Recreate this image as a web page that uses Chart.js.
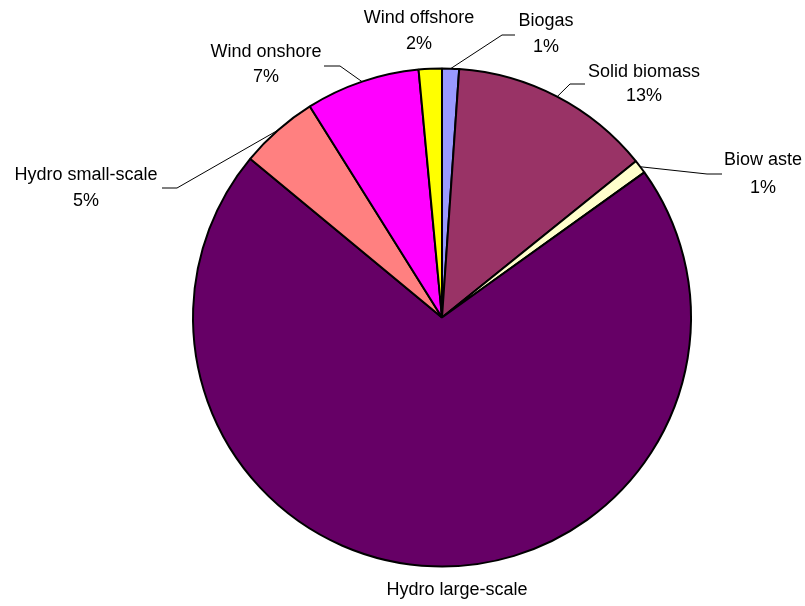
<!DOCTYPE html>
<html>
<head>
<meta charset="utf-8">
<script src="https://cdn.jsdelivr.net/npm/chart.js@4/dist/chart.umd.min.js"></script>
<style>
  html, body { margin: 0; padding: 0; background: #ffffff; }
  #wrap { width: 805px; height: 606px; }
</style>
</head>
<body>
<div id="wrap"><canvas id="c" width="805" height="606"></canvas></div>
<script>
// Renewable electricity generation by source (share of total, %)
const categories = ['Biogas', 'Solid biomass', 'Biow aste', 'Hydro large-scale', 'Hydro small-scale', 'Wind onshore', 'Wind offshore'];
const shares = [1.1, 13.1, 0.9, 70.9, 5.1, 7.4, 1.5];
const showPercent = [true, true, true, false, true, true, true];
const colors = ['#9999FF', '#993366', '#FFFFCC', '#660066', '#FF8080', '#FF00FF', '#FFFF00'];

// Where each label block sits (name line, percent line) and how its leader bends
const labelLayout = [
  { x: 546, y: 21, y2: 47, line: [[502, 35], [515, 35]] },
  { x: 644, y: 72, y2: 96, line: [[570, 84], [585, 84]] },
  { x: 763, y: 160, y2: 188, line: [[707, 174], [722, 174]] },
  { x: 457, y: 590, y2: null, line: null },
  { x: 86, y: 175, y2: 201, line: [[177, 188], [162, 188]] },
  { x: 266, y: 52, y2: 77, line: [[340, 66], [324, 66]] },
  { x: 419, y: 18, y2: 44, line: null }
];

const outsideLabels = {
  id: 'outsideLabels',
  afterDatasetsDraw(chart) {
    const ctx = chart.ctx;
    const meta = chart.getDatasetMeta(0);
    const data = chart.data.datasets[0].data;
    const total = data.reduce((a, b) => a + b, 0);
    ctx.save();
    ctx.font = '18px "Liberation Sans", Arial, sans-serif';
    ctx.fillStyle = '#000000';
    ctx.textAlign = 'center';
    ctx.textBaseline = 'middle';
    meta.data.forEach((arc, i) => {
      const p = arc.getProps(['x', 'y', 'startAngle', 'endAngle', 'outerRadius'], true);
      const mid = (p.startAngle + p.endAngle) / 2;
      const lay = labelLayout[i];
      if (lay.line) {
        ctx.strokeStyle = '#000000';
        ctx.lineWidth = 1;
        ctx.beginPath();
        ctx.moveTo(p.x + Math.cos(mid) * p.outerRadius, p.y + Math.sin(mid) * p.outerRadius);
        lay.line.forEach(pt => ctx.lineTo(pt[0], pt[1]));
        ctx.stroke();
      }
      ctx.fillText(chart.data.labels[i], lay.x, lay.y);
      if (showPercent[i]) {
        const pct = Math.round(data[i] / total * 100) + '%';
        ctx.fillText(pct, lay.x, lay.y2);
      }
    });
    ctx.restore();
  }
};

new Chart(document.getElementById('c'), {
  type: 'pie',
  data: {
    labels: categories,
    datasets: [{
      data: shares,
      backgroundColor: colors,
      borderColor: '#000000',
      borderWidth: 2
    }]
  },
  options: {
    responsive: false,
    animation: false,
    radius: 249,
    layout: { padding: { left: 79, right: 0, top: 29, bottom: 0 } },
    plugins: {
      legend: { display: false },
      tooltip: { enabled: false }
    }
  },
  plugins: [outsideLabels]
});
</script>
</body>
</html>
